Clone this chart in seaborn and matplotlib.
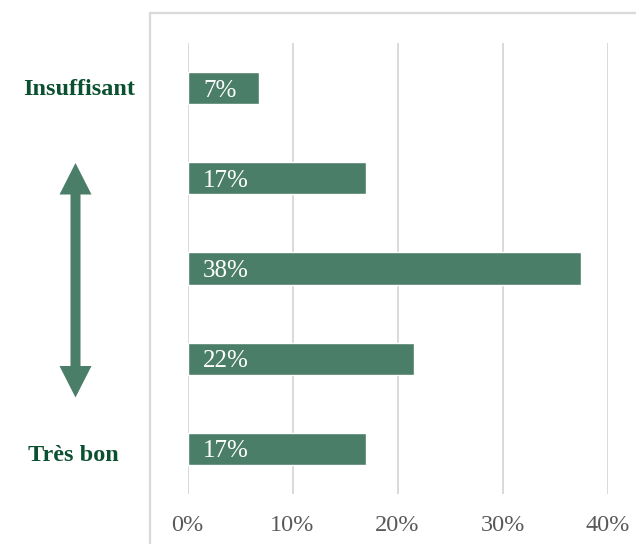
import matplotlib
matplotlib.use("Agg")
import matplotlib.pyplot as plt
from matplotlib.lines import Line2D
from matplotlib.patches import Polygon
import pandas as pd
import seaborn as sns

# Rating levels from worst to best and share of answers (%)
levels = ["Insuffisant", "2", "3", "4", "Très bon"]
shares = [6.8, 17.0, 37.5, 21.6, 17.0]
x_ticks = [0, 10, 20, 30, 40]
x_tick_labels = ["0%", "10%", "20%", "30%", "40%"]

BAR = "#4b7e68"
DARK = "#0c5032"
GRID = "#d9d9d9"
TICK = "#595959"
SERIF = ["Liberation Serif", "DejaVu Serif"]

sns.set_theme(style="white")
plt.rcParams["font.family"] = SERIF

W, H = 636, 544
fig = plt.figure(figsize=(W / 100, H / 100), dpi=100)
fig.patch.set_facecolor("white")


def fx(px):
    return px / W


def fy(py):
    return 1 - py / H


ax = fig.add_axes([fx(187.5), fy(494), fx(607.5) - fx(187.5), (494 - 43) / H])

df = pd.DataFrame({"niveau": levels, "part": shares})
sns.barplot(data=df, x="part", y="niveau", order=levels, orient="h",
            color=BAR, saturation=1, width=0.356, ax=ax)

ax.set_xlim(0, 40)
ax.set_xticks(x_ticks)
ax.set_xticklabels(x_tick_labels, fontsize=17.5, color=TICK, family=SERIF)
ax.tick_params(axis="x", length=0, pad=15)
ax.tick_params(axis="y", length=0, labelleft=False)
ax.set_xlabel("")
ax.set_ylabel("")
ax.xaxis.grid(True, color=GRID, linewidth=1.4)
ax.yaxis.grid(False)
ax.set_axisbelow(True)
for s in ax.spines.values():
    s.set_visible(False)

# Value labels inside bars, near the base
for i, v in enumerate(shares):
    ax.text(1.5, i, f"{v:.0f}%", color="white", fontsize=18,
            ha="left", va="center_baseline", family=SERIF)

# End-of-scale labels on the left
trans = ax.get_yaxis_transform()
ax.text((79.5 - 187.5) / 420, 0.02, levels[0], transform=trans, ha="center",
        va="center", fontsize=17.5, fontweight="bold", color=DARK, family=SERIF)
ax.text((73 - 187.5) / 420, 4.07, levels[-1], transform=trans, ha="center",
        va="center", fontsize=17.5, fontweight="bold", color=DARK, family=SERIF)

# Double-headed arrow between the two ends
pts = [(75.5, 163), (59.5, 194.5), (70.5, 194.5), (70.5, 366), (59.5, 366),
       (75.5, 397.5), (91.5, 366), (80.5, 366), (80.5, 194.5), (91.5, 194.5)]
fig.patches.append(Polygon([(fx(x), fy(y)) for x, y in pts], closed=True,
                           transform=fig.transFigure, facecolor=BAR,
                           edgecolor="none"))

# Outer frame (top and left edges)
fig.add_artist(Line2D([fx(150), fx(150)], [fy(13), fy(H + 5)],
                      transform=fig.transFigure, color=GRID, linewidth=1.6))
fig.add_artist(Line2D([fx(150), fx(W + 5)], [fy(13), fy(13)],
                      transform=fig.transFigure, color=GRID, linewidth=1.6))

fig.savefig("out.png", dpi=100, facecolor="white")
